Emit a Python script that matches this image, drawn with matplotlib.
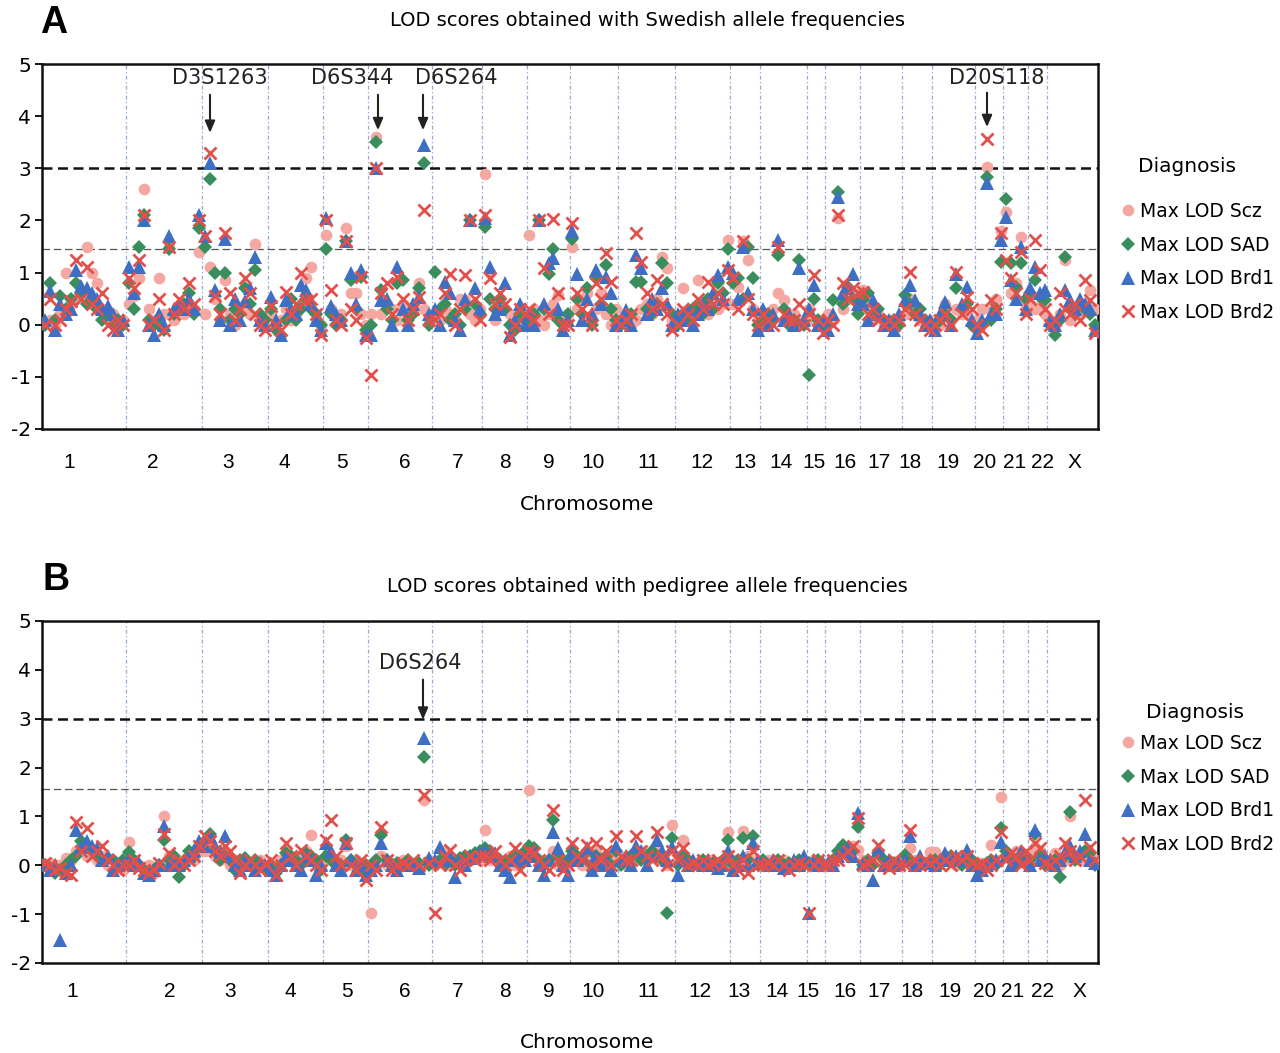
import matplotlib
matplotlib.use("Agg")
import matplotlib.pyplot as plt
from matplotlib.lines import Line2D

# ---------------- data ----------------
CHROMS = ['1', '2', '3', '4', '5', '6', '7', '8', '9', '10', '11', '12', '13',
          '14', '15', '16', '17', '18', '19', '20', '21', '22', 'X']
# cumulative map positions of chromosome boundaries (arbitrary map units)
CHROM_EDGES = [0, 84, 160, 226, 281, 326, 390, 440, 485, 528, 576, 633, 688,
               718, 765, 783, 818, 860, 890, 933, 961, 986, 1005, 1056]
# number of markers typed per chromosome (evenly spaced along each chromosome)
N_MARKERS = [16, 15, 13, 11, 9, 12, 10, 9, 9, 10, 11, 11, 6, 9, 4, 7, 8, 6, 8, 6, 5, 4, 10]

# label anchor positions of chromosome names under each panel
A_LABEL_POS = [27, 111, 186, 242, 300, 363, 416, 463, 507, 551, 606, 660, 703,
               739, 772, 803, 837, 868, 906, 943, 973, 1000, 1032]
B_LABEL_POS = [30, 128, 188, 248, 305, 363, 416, 463, 507, 551, 606, 658, 697,
               735, 766, 803, 837, 870, 908, 943, 971, 1000, 1037]

SIGNIFICANT = 3.0
A_SUGGESTIVE = 1.45
B_SUGGESTIVE = 1.56

# Panel A : Swedish allele frequencies
A_SCZ = [0.05, 0.1, 0.0, 0.2, 1.0, 0.4, 0.5, 0.6, 1.5, 1.0, 0.8, 0.3, 0.1, 0.2, 0.0, 0.1,   # 1
         0.4, 0.55, 0.9, 2.6, 0.3, 0.1, 0.9, 0.2, 1.5, 0.1, 0.3, 0.2, 0.4, 0.3, 1.4,       # 2
         0.2, 1.1, 0.5, 0.1, 0.85, 0.2, 0.0, 0.3, 0.4, 0.2, 1.55, 0.1, 0.0,               # 3
         0.2, 0.0, 0.1, 0.3, 0.1, 0.2, 0.4, 0.9, 1.1, 0.2, 0.0,                           # 4
         1.72, 0.3, 0.1, 0.2, 1.85, 0.6, 0.6, 0.2, 0.0,                                   # 5
         0.2, 3.6, 0.2, 0.4, 0.3, 0.1, 0.4, 0.2, 0.3, 0.8, 0.3, 0.1,                      # 6
         0.2, 0.1, 0.3, 0.2, 0.1, 0.5, 0.47, 0.2, 0.1, 0.3,                               # 7
         2.9, 1.0, 0.1, 0.5, 0.3, 0.2, 0.0, 0.3, 0.1,                                     # 8
         1.72, 0.3, 0.1, 0.0, 0.2, 0.4, 0.57, 0.1, 0.2,                                   # 9
         1.5, 0.3, 0.5, 0.6, 0.1, 0.3, 0.6, 0.2, 0.0, 0.3,                                # 10
         0.1, 0.2, 0.0, 0.1, 0.3, 0.4, 0.2, 0.5, 1.3, 1.08, 0.1,                          # 11
         0.1, 0.7, 0.3, 0.2, 0.86, 0.4, 0.2, 0.5, 0.3, 0.4, 1.62,                         # 12
         0.4, 0.73, 1.6, 1.25, 0.3, 0.1,                                                  # 13
         0.2, 0.1, 0.3, 0.6, 0.47, 0.1, 0.2, 0.0, 0.1,                                    # 14
         0.3, 0.1, 0.0, 0.1,                                                              # 15
         0.2, 0.1, 2.04, 0.3, 0.5, 0.6, 0.3,                                              # 16
         0.67, 0.3, 0.1, 0.2, 0.0, 0.1, 0.0, 0.1,                                         # 17
         0.2, 0.5, 0.3, 0.1, 0.0, 0.1,                                                    # 18
         0.1, 0.0, 0.4, 0.1, 0.3, 0.2, 0.2, 0.0,                                          # 19
         0.1, 0.3, 3.03, 0.28, 0.5, 1.8,                                                  # 20
         2.17, 0.6, 0.8, 1.69, 0.4,                                                       # 21
         0.4, 0.3, 0.35, 0.2,                                                             # 22
         0.1, 0.0, 0.2, 1.25, 0.1, 0.3, 0.2, 0.4, 0.67, 0.3]                              # X
A_SAD = [0.0, 0.8, 0.1, 0.55, 0.3, 0.5, 0.8, 0.6, 0.4, 0.5, 0.3, 0.1, 0.2, 0.0, 0.1, 0.0,
         0.8, 0.3, 1.5, 2.1, 0.1, 0.0, 0.0, -0.1, 1.45, 0.2, 0.3, 0.4, 0.6, 0.2, 1.85,
         1.5, 2.8, 1.0, 0.3, 1.0, 0.1, 0.3, 0.2, 0.7, 0.4, 1.05, 0.2, 0.1,
         0.3, -0.1, -0.2, 0.1, 0.5, 0.1, 0.3, 0.5, 0.3, 0.2, 0.0,
         1.46, 0.2, 0.0, 0.1, 1.6, 0.85, 0.3, 0.92, -0.1,
         0.0, 3.5, 0.66, 0.3, 0.1, 0.8, 0.85, 0.1, 0.2, 0.7, 3.1, 0.0,
         1.02, 0.3, 0.4, 0.1, 0.2, 0.0, 0.3, 2.0, 0.4, 0.2,
         1.88, 0.5, 0.3, 0.5, 0.3, 0.0, -0.1, 0.2, 0.1,
         0.1, 0.2, 2.0, 0.3, 0.98, 1.46, 0.1, 0.0, 0.2,
         1.65, 0.5, 0.2, 0.7, 0.0, 0.9, 0.4, 1.14, 0.3, 0.1,
         0.0, 0.1, 0.2, 0.82, 0.82, 0.3, 0.2, 0.4, 1.18, 0.8, 0.2,
         0.0, 0.2, 0.1, 0.3, 0.4, 0.2, 0.5, 0.3, 0.8, 0.6, 1.46,
         0.8, 0.9, 0.5, 1.5, 0.9, 0.0,
         0.1, 0.2, 0.1, 1.34, 0.3, 0.0, 0.1, 1.24, 0.0,
         -0.97, 0.5, 0.1, 0.0,
         0.0, 0.47, 2.55, 0.4, 0.73, 0.5, 0.2,
         0.47, 0.6, 0.2, 0.3, 0.1, 0.0, 0.1, 0.0,
         0.57, 0.4, 0.2, 0.3, 0.1, 0.0,
         0.0, 0.1, 0.2, 0.1, 0.7, 0.3, 0.4, 0.0,
         -0.1, 0.0, 2.84, 0.1, 0.3, 1.2,
         2.42, 1.18, 0.73, 1.18, 0.5,
         0.6, 0.86, 0.54, 0.47,
         0.0, -0.2, 0.1, 1.3, 0.3, 0.2, 0.4, 0.3, 0.2, 0.0]
A_BRD1 = [0.1, 0.65, -0.1, 0.4, 0.2, 0.3, 1.05, 0.75, 0.7, 0.6, 0.5, 0.3, 0.35, 0.2, -0.1, 0.1,
          1.1, 0.6, 1.1, 2.0, 0.0, -0.2, 0.2, 0.0, 1.7, 0.3, 0.4, 0.3, 0.5, 0.3, 2.1,
          1.7, 3.1, 0.67, 0.1, 1.65, 0.0, 0.5, 0.1, 0.45, 0.7, 1.3, 0.1, 0.0,
          0.54, 0.1, -0.2, 0.47, 0.3, 0.2, 0.76, 0.67, 0.4, 0.1, -0.1,
          2.04, 0.35, 0.2, 0.1, 1.6, 1.0, 0.4, 1.05, -0.2,
          -0.2, 3.0, 0.47, 0.5, 0.0, 1.1, 0.3, 0.0, 0.4, 0.54, 3.45, 0.2,
          0.3, 0.0, 0.82, 0.6, 0.1, -0.1, 0.5, 2.0, 0.7, 0.3,
          2.05, 1.1, 0.2, 0.3, 0.8, -0.2, 0.1, 0.4, 0.0,
          0.2, 0.0, 2.0, 0.4, 1.18, 1.27, 0.3, -0.1, 0.1,
          1.8, 0.98, 0.1, 0.5, 0.2, 1.05, 0.4, 0.92, 0.6, 0.0,
          0.1, 0.28, 0.0, 1.34, 1.08, 0.2, 0.5, 0.3, 0.7, 0.4, 0.0,
          0.2, 0.1, 0.3, 0.0, 0.2, 0.4, 0.3, 0.6, 0.95, 0.5, 1.1,
          1.0, 0.5, 1.5, 0.6, 0.3, -0.1,
          0.3, 0.0, 0.2, 1.62, 0.1, 0.2, 0.0, 1.08, 0.1,
          0.3, 0.76, 0.0, 0.1,
          -0.1, 0.2, 2.45, 0.6, 0.7, 0.98, 0.4,
          0.4, 0.1, 0.47, 0.2, 0.0, 0.1, -0.1, 0.2,
          0.47, 0.76, 0.47, 0.2, 0.0, 0.1,
          -0.1, 0.2, 0.44, 0.0, 0.98, 0.4, 0.73, 0.1,
          -0.15, 0.1, 2.71, 0.2, 0.2, 1.62,
          2.07, 0.86, 0.5, 1.5, 0.3,
          0.7, 1.11, 0.6, 0.67,
          0.1, 0.0, 0.2, 0.67, 0.47, 0.3, 0.5, 0.4, 0.3, -0.1]
A_BRD2 = [0.0, 0.5, 0.0, 0.1, 0.3, 0.45, 1.25, 0.5, 1.1, 0.4, 0.3, 0.6, 0.0, -0.1, 0.1, 0.0,
          0.9, 0.7, 1.25, 2.1, 0.0, 0.1, 0.5, -0.1, 1.5, 0.2, 0.5, 0.3, 0.8, 0.4, 2.0,
          1.7, 3.3, 0.55, 0.2, 1.75, 0.6, 0.1, 0.3, 0.9, 0.6, 0.2, 0.0, -0.1,
          0.35, 0.0, -0.1, 0.63, 0.2, 0.4, 1.0, 0.47, 0.5, 0.2, -0.2,
          2.0, 0.67, 0.1, 0.0, 1.6, 0.3, 0.1, 0.92, -0.25,
          -0.97, 3.0, 0.6, 0.8, 0.2, 0.92, 0.5, 0.1, 0.3, 0.54, 2.2, 0.1,
          0.1, 0.2, 0.6, 0.98, 0.0, 0.3, 0.95, 2.0, 0.5, 0.1,
          2.1, 0.9, 0.4, 0.6, 0.4, -0.23, 0.0, 0.3, 0.2,
          0.3, 0.1, 2.0, 1.08, 0.2, 2.02, 0.6, 0.0, 0.0,
          1.95, 0.6, 0.3, 0.2, 0.0, 0.8, 0.5, 1.37, 0.82, 0.1,
          0.0, 0.1, 0.2, 1.75, 1.2, 0.6, 0.3, 0.86, 0.4, 0.2, -0.1,
          0.0, 0.3, 0.2, 0.1, 0.5, 0.3, 0.82, 0.4, 0.6, 0.4, 1.05,
          0.9, 0.3, 1.6, 0.5, 0.2, 0.0,
          0.2, 0.1, 0.0, 1.5, 0.2, 0.1, 0.1, 0.4, 0.0,
          0.2, 0.95, 0.1, -0.15,
          0.1, 0.0, 2.1, 0.8, 0.5, 0.7, 0.6,
          0.63, 0.2, 0.3, 0.1, 0.0, 0.1, 0.0, 0.1,
          0.3, 1.02, 0.2, 0.1, 0.0, -0.1,
          0.0, 0.1, 0.2, 0.0, 1.02, 0.2, 0.54, 0.3,
          0.0, -0.1, 3.57, 0.47, 0.3, 1.75,
          1.24, 0.9, 0.6, 1.4, 0.2,
          0.5, 1.62, 1.05, 0.3,
          0.0, 0.1, 0.6, 0.3, 0.2, 0.4, 0.1, 0.86, 0.47, -0.15]

# Panel B : pedigree allele frequencies
B_SCZ = [0.0, 0.05, -0.1, 0.0, 0.14, 0.1, 0.3, 0.4, 0.2, 0.3, 0.1, 0.2, 0.0, 0.1, 0.0, -0.1,
         0.48, 0.1, 0.0, -0.1, 0.0, -0.15, 0.0, 1.0, 0.2, 0.1, 0.0, 0.1, 0.2, 0.1, 0.3,
         0.3, 0.4, 0.2, 0.1, 0.3, 0.0, 0.1, 0.0, 0.1, 0.05, 0.0, 0.1, 0.0,
         0.0, -0.1, 0.1, 0.3, 0.1, 0.0, 0.2, 0.3, 0.62, 0.1, 0.0,
         0.2, 0.1, 0.0, 0.1, 0.4, 0.0, 0.1, 0.0, -0.1,
         -0.98, 0.1, 0.2, 0.0, 0.05, 0.0, 0.1, 0.0, 0.05, 0.0, 1.34, 0.1,
         0.0, 0.1, 0.3, 0.0, 0.1, 0.05, 0.2, 0.1, 0.2, 0.1,
         0.72, 0.1, 0.2, 0.0, 0.1, 0.2, 0.0, 0.1, 0.2,
         1.54, 0.2, 0.1, 0.0, 0.1, 0.3, 0.0, 0.1, 0.0,
         0.2, 0.1, 0.0, 0.2, 0.1, 0.3, 0.1, 0.0, 0.2, 0.1,
         0.1, 0.0, 0.2, 0.1, 0.3, 0.1, 0.2, 0.3, 0.1, 0.0, 0.83,
         0.1, 0.52, 0.1, 0.0, 0.05, 0.0, 0.1, 0.0, 0.05, 0.1, 0.69,
         0.1, 0.0, 0.7, 0.2, 0.38, 0.1,
         0.0, 0.1, 0.05, 0.0, 0.1, 0.0, 0.05, 0.0, 0.1,
         0.0, 0.1, 0.0, 0.05,
         0.0, 0.1, 0.2, 0.3, 0.2, 0.4, 0.31,
         0.1, 0.0, 0.05, 0.1, 0.0, 0.05, 0.0, 0.1,
         0.1, 0.35, 0.1, 0.0, 0.05, 0.28,
         0.28, 0.1, 0.2, 0.1, 0.0, 0.2, 0.1, 0.0,
         0.0, 0.05, 0.0, 0.42, 0.1, 1.4,
         0.2, 0.1, 0.3, 0.1, 0.2,
         0.2, 0.38, 0.3, 0.1,
         0.1, 0.25, 0.0, 0.1, 1.0, 0.2, 0.1, 0.3, 0.2, 0.1]
B_SAD = [0.0, -0.05, -0.15, -0.1, 0.0, 0.1, 0.18, 0.5, 0.4, 0.3, 0.2, 0.1, 0.15, 0.1, 0.0, 0.1,
         0.28, 0.1, 0.0, -0.1, -0.15, -0.1, 0.0, 0.52, 0.1, 0.2, -0.23, 0.0, 0.3, 0.2, 0.4,
         0.5, 0.65, 0.3, 0.1, 0.2, 0.1, -0.1, 0.1, 0.15, 0.0, 0.1, 0.0, -0.05,
         0.0, -0.15, 0.0, 0.25, 0.2, 0.1, 0.0, 0.25, 0.2, 0.1, -0.1,
         0.2, 0.1, 0.0, 0.0, 0.52, 0.1, 0.0, -0.1, 0.0,
         0.0, 0.1, 0.62, 0.1, 0.0, 0.05, 0.0, 0.1, 0.0, 0.05, 2.22, 0.0,
         0.05, 0.1, 0.0, 0.1, 0.0, 0.15, 0.2, 0.2, 0.25, 0.3,
         0.35, 0.3, 0.2, 0.1, 0.0, 0.1, 0.2, 0.0, 0.3,
         0.4, 0.35, 0.1, 0.0, 0.1, 0.93, 0.2, 0.0, 0.1,
         0.3, 0.2, 0.1, 0.3, 0.0, 0.2, 0.1, 0.2, 0.0, 0.3,
         0.0, 0.1, 0.2, 0.3, 0.1, 0.2, 0.3, 0.2, 0.1, -0.98, 0.55,
         0.0, 0.2, 0.1, 0.05, 0.0, 0.1, 0.0, 0.05, 0.0, 0.1, 0.52,
         0.0, 0.1, 0.55, 0.1, 0.59, 0.0,
         0.1, 0.0, 0.05, 0.1, 0.0, 0.05, 0.0, 0.1, 0.0,
         0.05, 0.0, 0.1, 0.0,
         0.0, 0.1, 0.3, 0.42, 0.2, 0.3, 0.79,
         0.0, 0.1, 0.0, 0.25, 0.1, 0.0, 0.05, 0.0,
         0.21, 0.1, 0.0, 0.1, 0.0, 0.05,
         0.1, 0.0, 0.1, 0.2, 0.1, 0.0, 0.15, 0.1,
         0.0, -0.1, 0.05, 0.1, 0.0, 0.76,
         0.3, 0.1, 0.0, 0.2, 0.1,
         0.1, 0.65, 0.2, 0.0,
         0.0, 0.1, -0.23, 0.2, 1.1, 0.1, 0.2, 0.3, 0.25, 0.0]
B_BRD1 = [0.0, -0.1, 0.0, -1.53, -0.15, 0.0, 0.72, 0.38, 0.5, 0.4, 0.35, 0.1, 0.2, -0.1, 0.0, 0.05,
          0.1, 0.0, 0.05, -0.15, -0.2, -0.1, 0.0, 0.8, 0.0, 0.1, 0.0, 0.1, 0.2, 0.3, 0.5,
          0.4, 0.59, 0.4, 0.3, 0.59, 0.2, 0.0, -0.1, 0.1, 0.0, -0.1, 0.05, 0.0,
          -0.1, -0.2, 0.0, 0.2, 0.1, 0.0, -0.1, 0.2, 0.1, -0.2, 0.0,
          0.45, 0.3, 0.0, -0.1, 0.45, 0.1, -0.1, 0.0, -0.2,
          -0.1, 0.0, 0.45, 0.1, 0.0, -0.1, 0.0, 0.05, 0.0, -0.05, 2.6, 0.15,
          0.1, 0.38, 0.1, 0.2, -0.23, 0.1, 0.0, 0.15, 0.2, 0.25,
          0.3, 0.2, 0.25, 0.0, -0.1, -0.23, 0.1, 0.2, 0.1,
          0.2, 0.3, 0.0, -0.2, 0.1, 0.69, 0.35, 0.0, -0.2,
          0.25, 0.1, 0.2, 0.35, -0.1, 0.2, 0.0, 0.1, -0.1, 0.4,
          0.1, 0.18, 0.0, 0.4, 0.3, 0.0, 0.2, 0.52, 0.3, 0.1, 0.38,
          -0.2, 0.1, 0.0, 0.1, 0.05, 0.0, 0.1, 0.0, -0.05, 0.0, 0.3,
          -0.1, 0.0, 0.2, 0.0, 0.45, 0.1,
          0.05, 0.0, 0.1, 0.0, -0.05, 0.0, 0.1, 0.0, 0.18,
          -0.98, 0.1, 0.0, 0.05,
          0.05, 0.0, 0.2, 0.3, 0.35, 0.2, 1.06,
          0.05, 0.0, -0.3, 0.31, 0.0, 0.1, 0.0, 0.05,
          0.1, 0.59, 0.0, 0.2, 0.05, 0.1,
          0.0, 0.1, 0.25, 0.1, 0.2, 0.1, 0.31, 0.0,
          -0.2, -0.1, 0.0, 0.05, 0.1, 0.48,
          0.2, 0.0, 0.1, 0.3, 0.1,
          0.0, 0.72, 0.11, 0.2,
          0.1, 0.0, 0.1, 0.28, 0.4, 0.2, 0.3, 0.65, 0.1, 0.05]
B_BRD2 = [0.05, 0.0, -0.1, -0.05, -0.15, -0.2, 0.89, 0.3, 0.76, 0.2, 0.3, 0.4, 0.1, 0.0, -0.1, 0.0,
          0.0, 0.1, -0.05, -0.1, -0.15, -0.1, 0.05, 0.65, 0.25, 0.0, 0.1, 0.0, 0.1, 0.2, 0.4,
          0.59, 0.5, 0.3, 0.2, 0.4, 0.3, 0.1, -0.15, 0.0, 0.1, 0.0, -0.1, 0.05,
          0.1, -0.2, 0.0, 0.45, 0.2, 0.0, 0.31, 0.2, 0.1, 0.0, -0.1,
          0.52, 0.93, 0.2, 0.0, 0.45, 0.0, -0.1, 0.1, -0.3,
          0.0, -0.1, 0.79, 0.1, -0.1, 0.0, 0.05, 0.0, 0.1, 0.0, 1.44, 0.05,
          -0.98, 0.0, 0.2, 0.31, 0.0, -0.1, 0.1, 0.2, 0.1, 0.2,
          0.2, 0.1, 0.3, 0.1, 0.0, 0.1, 0.35, -0.1, 0.2,
          0.3, 0.25, 0.1, 0.0, -0.1, 1.13, 0.1, -0.1, 0.0,
          0.45, 0.2, 0.1, 0.42, 0.0, 0.45, 0.1, 0.3, 0.0, 0.59,
          0.2, 0.1, 0.1, 0.59, 0.3, 0.2, 0.1, 0.69, 0.2, 0.0, 0.3,
          0.1, 0.35, 0.0, 0.05, 0.0, 0.1, 0.0, 0.05, 0.1, 0.0, 0.2,
          0.0, -0.1, 0.1, -0.15, 0.3, 0.0,
          0.0, 0.05, 0.0, 0.1, 0.0, -0.1, 0.0, 0.05, 0.0,
          -0.98, 0.0, 0.1, 0.0,
          0.0, 0.1, 0.1, 0.2, 0.3, 0.4, 0.96,
          0.0, 0.05, 0.1, 0.42, 0.0, -0.05, 0.1, 0.0,
          0.0, 0.72, 0.1, 0.0, 0.1, 0.05,
          0.1, 0.0, 0.1, 0.0, 0.2, 0.1, 0.2, 0.05,
          0.0, 0.05, -0.1, 0.0, 0.1, 0.69,
          0.1, 0.25, 0.2, 0.0, 0.3,
          0.1, 0.45, 0.35, 0.05,
          0.0, 0.1, 0.2, 0.45, 0.3, 0.1, 0.2, 1.34, 0.38, 0.1]

SERIES = ['Max LOD Scz', 'Max LOD SAD', 'Max LOD Brd1', 'Max LOD Brd2']

# annotations: (label, marker map position, arrow tail, arrow tip, text x, text y)
A_ANNOT = [('D3S1263', 168, 4.41, 3.68, 178, 4.73),
           ('D6S344', 336, 4.41, 3.73, 310, 4.73),
           ('D6S264', 381, 4.41, 3.73, 414, 4.73),
           ('D20S118', 945, 4.45, 3.79, 955, 4.73)]
B_ANNOT = [('D6S264', 381, 3.80, 2.98, 378, 4.14)]

# ---------------- style ----------------
W, H = 1280, 1053
STYLES = [dict(marker='o', color='#f5a8a2', ms=8.4, mew=0),
          dict(marker='D', color='#3a8d5c', ms=7.6, mew=0),
          dict(marker='^', color='#3e6fc2', ms=9.8, mew=0),
          dict(marker='x', color='#e2504b', ms=8.6, mew=2.0)]
FONT = 'DejaVu Sans'
plt.rcParams['font.family'] = [FONT]


def positions(edges, counts):
    xs = []
    for s, e, n in zip(edges[:-1], edges[1:], counts):
        step = (e - s) / n
        xs += [s + (i + 0.5) * step for i in range(n)]
    return xs


XS = positions(CHROM_EDGES, N_MARKERS)
for arr in (A_SCZ, A_SAD, A_BRD1, A_BRD2, B_SCZ, B_SAD, B_BRD1, B_BRD2):
    assert len(arr) == len(XS), (len(arr), len(XS))

fig = plt.figure(figsize=(W / 100, H / 100), dpi=100)


def fx(px):
    return px / W


def fy(py):
    return 1 - py / H


def make_panel(rect, series, label_pos, suggestive, annots, title, title_y,
               letter, letter_xy, xlabel_y, xtick_pad, diag_xy, legend_top):
    ax = fig.add_axes(rect)
    ax.set_xlim(0, 1056)
    ax.set_ylim(-2, 5)
    for e in CHROM_EDGES[1:-1]:
        ax.axvline(e, color='#94a8d4', lw=0.9, ls=(0, (3, 2, 1, 2)), zorder=1)
    ax.axhline(SIGNIFICANT, color='#111111', lw=1.8, ls=(0, (4, 2.2)), zorder=1)
    ax.axhline(suggestive, color='#555555', lw=0.9, ls=(0, (6, 3)), zorder=1)
    for vals, st in zip(series, STYLES):
        ax.plot(XS, vals, ls='none', marker=st['marker'], color=st['color'],
                ms=st['ms'], mew=st['mew'], zorder=3)
    ax.set_yticks(range(-2, 6))
    ax.set_yticklabels([str(v) for v in range(-2, 6)], fontsize=14.5)
    ax.tick_params(axis='y', direction='out', length=5, width=1.3, pad=3)
    ax.set_xticks(label_pos)
    ax.set_xticklabels(CHROMS, fontsize=15, family='Liberation Sans')
    ax.tick_params(axis='x', length=0, pad=xtick_pad)
    for sp in ax.spines.values():
        sp.set_linewidth(1.8)
        sp.set_color('#111111')
    for (lab, xm, yt, yh, tx, ty) in annots:
        ax.annotate('', xy=(xm, yh), xytext=(xm, yt),
                    arrowprops=dict(arrowstyle='-|>,head_length=0.7,head_width=0.3',
                                    lw=1.5, color='#222222', shrinkA=0, shrinkB=0))
        ax.text(tx, ty, lab, ha='center', va='center', fontsize=15, color='#222222')
    fig.text(fx(647), fy(title_y), title, ha='center', va='center', fontsize=14)
    fig.text(fx(letter_xy[0]), fy(letter_xy[1]), letter, ha='center', va='center',
             fontsize=27, fontweight='bold', family='Liberation Sans')
    fig.text(fx(587), fy(xlabel_y), 'Chromosome', ha='center', va='center', fontsize=14.5)
    fig.text(fx(diag_xy[0]), fy(diag_xy[1]), 'Diagnosis', ha='center', va='center',
             fontsize=14.5)
    handles = [Line2D([], [], ls='none', marker=st['marker'], color=st['color'],
                      ms=st['ms'], mew=st['mew']) for st in STYLES]
    fig.legend(handles, SERIES, loc='upper left',
               bbox_to_anchor=(fx(1120), fy(legend_top)),
               frameon=False, fontsize=13.5,
               handletextpad=0.15, handlelength=0.9, labelspacing=0.78,
               borderpad=0, borderaxespad=0)
    return ax


make_panel([fx(42), fy(429), fx(1056), (429 - 64) / H],
           [A_SCZ, A_SAD, A_BRD1, A_BRD2], A_LABEL_POS, A_SUGGESTIVE, A_ANNOT,
           'LOD scores obtained with Swedish allele frequencies', 20,
           'A', (54, 23), 505, 17, (1187, 166), 202)
make_panel([fx(42), fy(963), fx(1056), (963 - 621) / H],
           [B_SCZ, B_SAD, B_BRD1, B_BRD2], B_LABEL_POS, B_SUGGESTIVE, B_ANNOT,
           'LOD scores obtained with pedigree allele frequencies', 586,
           'B', (56, 580), 1043, 14, (1195, 713), 734)

fig.savefig('out.png', dpi=100)
